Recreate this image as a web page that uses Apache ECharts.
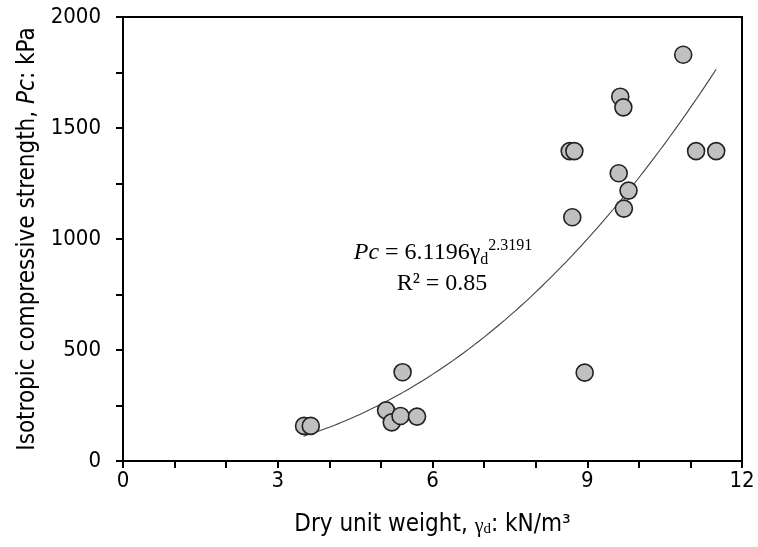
<!DOCTYPE html>
<html>
<head>
<meta charset="utf-8">
<script src="https://cdn.jsdelivr.net/npm/echarts@6/dist/echarts.min.js"></script>
<style>
  html, body { margin: 0; padding: 0; background: #fff; }
  #chart { width: 758px; height: 547px; }
</style>
</head>
<body>
<div id="chart"></div>
<script>
'use strict';

// measured points: dry unit weight (kN/m3) vs isotropic compressive strength (kPa)
const gammaD = [3.51, 3.64, 5.10, 5.21, 5.38, 5.70, 5.42, 8.95, 8.66, 8.75, 8.71,
                9.61, 9.80, 9.71, 9.64, 9.70, 10.86, 11.11, 11.50];
const pc     = [158, 158, 228, 174, 203, 200, 400, 398, 1396, 1396, 1098,
                1296, 1218, 1137, 1641, 1593, 1830, 1396, 1396];

// power trend line Pc = a * gd^b, as printed on the chart
const trendCoef  = [6.1196, 2.3191];
const trendRange = [3.5, 11.5];

const xLabels = [0, 3, 6, 9, 12];
const yLabels = [0, 500, 1000, 1500, 2000];

const sans  = '"DejaVu Sans Condensed", "DejaVu Sans", sans-serif';
const serif = '"Liberation Serif", "Times New Roman", serif';

const points = gammaD.map((x, i) => [x, pc[i]]);

const trend = [];
for (let i = 0; i <= 80; i++) {
    const x = trendRange[0] + (trendRange[1] - trendRange[0]) * i / 80;
    trend.push([x, trendCoef[0] * Math.pow(x, trendCoef[1])]);
}

const chart = echarts.init(document.getElementById('chart'), null, {renderer: 'canvas'});

const axisCommon = {
    axisLine: {show: true, onZero: false, lineStyle: {color: '#000', width: 2}},
    axisTick: {show: true, inside: false, length: 7, lineStyle: {color: '#000', width: 2}},
    splitLine: {show: false},
    nameLocation: 'middle'
};

chart.setOption({
    animation: false,
    backgroundColor: '#fff',
    grid: {left: 123, right: 16, top: 17, bottom: 86, show: true, borderColor: '#000', borderWidth: 2},
    xAxis: Object.assign({}, axisCommon, {
        type: 'value',
        min: 0,
        max: 12,
        interval: 1,
        name: 'Dry unit weight, {g|γ}{d|d}: kN/m³',
        nameGap: 52,
        nameTextStyle: {
            fontFamily: sans, fontSize: 24, color: '#000',
            rich: {
                g: {fontFamily: serif, fontSize: 20, color: '#000', verticalAlign: 'bottom'},
                d: {fontFamily: serif, fontSize: 15, color: '#000', verticalAlign: 'bottom'}
            }
        },
        axisLabel: {
            margin: 9, fontFamily: sans, fontSize: 22, color: '#000',
            formatter: v => xLabels.indexOf(v) >= 0 ? String(v) : ''
        }
    }),
    yAxis: Object.assign({}, axisCommon, {
        type: 'value',
        min: 0,
        max: 2000,
        interval: 250,
        name: 'Isotropic compressive strength, {i|Pc}: kPa',
        nameGap: 83,
        nameTextStyle: {
            fontFamily: sans, fontSize: 24, color: '#000',
            rich: {i: {fontFamily: sans, fontSize: 24, fontStyle: 'italic', color: '#000'}}
        },
        axisLabel: {
            margin: 22, fontFamily: sans, fontSize: 22, color: '#000',
            formatter: v => yLabels.indexOf(v) >= 0 ? String(v) : ''
        }
    }),
    series: [
        {
            type: 'line',
            data: trend,
            showSymbol: false,
            smooth: false,
            lineStyle: {color: '#444', width: 1.1},
            z: 2,
            silent: true
        },
        {
            type: 'scatter',
            data: points,
            symbol: 'circle',
            symbolSize: 17,
            itemStyle: {color: '#c0c0c0', borderColor: '#222', borderWidth: 1.6, opacity: 1},
            z: 3
        }
    ],
    graphic: [
        {
            type: 'text',
            x: 443,
            y: 253,
            z: 10,
            style: {
                text: '{i|Pc} = 6.1196γ{sub|d}{sup|2.3191}',
                fontFamily: serif,
                fontSize: 24,
                fill: '#000',
                lineHeight: 30,
                align: 'center',
                verticalAlign: 'middle',
                rich: {
                    i: {fontFamily: serif, fontSize: 24, fontStyle: 'italic', lineHeight: 30},
                    sub: {fontFamily: serif, fontSize: 16, verticalAlign: 'bottom', lineHeight: 30},
                    sup: {fontFamily: serif, fontSize: 16, verticalAlign: 'top', lineHeight: 26}
                }
            }
        },
        {
            type: 'text',
            x: 442,
            y: 284,
            z: 10,
            style: {
                text: 'R² = 0.85',
                fontFamily: serif,
                fontSize: 24,
                fill: '#000',
                align: 'center',
                verticalAlign: 'middle'
            }
        }
    ]
});
</script>
</body>
</html>
